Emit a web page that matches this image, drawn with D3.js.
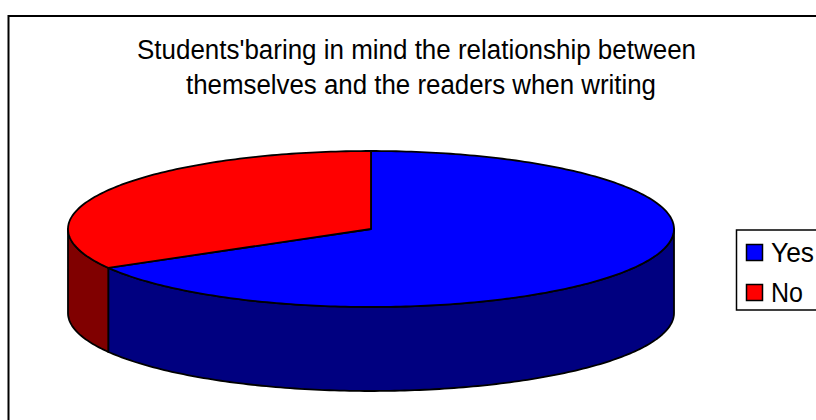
<!DOCTYPE html>
<html><head><meta charset="utf-8">
<script src="https://cdn.jsdelivr.net/npm/d3@7"></script>
<style>html,body{margin:0;padding:0;background:#fff;overflow:hidden}svg{display:block}text{font-family:"Liberation Sans",Arial,sans-serif;fill:#000}</style>
</head><body><svg id="c" width="816" height="420"></svg>
<script>
const categories = ["Yes", "No"];
const values = [66.7, 33.3];
const topColors = ["#0000ff", "#ff0000"];
const sideColors = ["#000080", "#800000"];
const titleLines = ["Students'baring in mind the relationship between", "themselves and the readers when writing"];

const svg = d3.select("#c");
const cx = 371, cy = 229, rx = 303, ry = 78, depth = 84;
const px = d3.scaleLinear().domain([-1, 1]).range([cx - rx, cx + rx]);
const py = d3.scaleLinear().domain([-1, 1]).range([cy - ry, cy + ry]);
const pt = (a, dz = 0) => [px(Math.sin(a)), py(-Math.cos(a)) + dz];
const samples = (a0, a1) => { const n = Math.max(2, Math.ceil(Math.abs(a1 - a0) * 60)); return d3.range(n + 1).map(i => a0 + (a1 - a0) * i / n); };
const line = d3.line();

svg.append("rect").attr("x", 8.5).attr("y", 16).attr("width", 900).attr("height", 600)
  .attr("fill", "#fff").attr("stroke", "#000").attr("stroke-width", 2);

svg.selectAll("text.title").data(titleLines).join("text").attr("class", "title")
  .attr("x", (d, i) => i ? 421 : 416.5).attr("y", (d, i) => 59 + i * 34.5)
  .attr("text-anchor", "middle").attr("font-size", 27).attr("textLength", (d, i) => i ? 470 : 559)
  .attr("lengthAdjust", "spacingAndGlyphs").text(d => d);

const arcs = d3.pie().sort(null)(values);
const front0 = Math.PI / 2, front1 = Math.PI * 1.5;
arcs.forEach((d, i) => {
  const a0 = Math.max(d.startAngle, front0), a1 = Math.min(d.endAngle, front1);
  if (a1 <= a0) return;
  const s = samples(a0, a1);
  const poly = s.map(a => pt(a)).concat(s.slice().reverse().map(a => pt(a, depth)));
  svg.append("path").attr("d", line(poly) + "Z").attr("fill", sideColors[i])
    .attr("stroke", "#000").attr("stroke-width", 1.8).attr("stroke-linejoin", "round");
});
arcs.forEach((d, i) => {
  const poly = [[px(0), py(0)]].concat(samples(d.startAngle, d.endAngle).map(a => pt(a)));
  svg.append("path").attr("d", line(poly) + "Z").attr("fill", topColors[i])
    .attr("stroke", "#000").attr("stroke-width", 1.8).attr("stroke-linejoin", "round");
});

svg.append("rect").attr("x", 736.5).attr("y", 230).attr("width", 200).attr("height", 80)
  .attr("fill", "#fff").attr("stroke", "#000").attr("stroke-width", 1.5);
const lg = svg.selectAll("g.lg").data(categories).join("g").attr("class", "lg")
  .attr("transform", (d, i) => `translate(0,${i * 40})`);
lg.append("rect").attr("x", 746.5).attr("y", 244.5).attr("width", 16).attr("height", 16)
  .attr("fill", (d, i) => topColors[i]).attr("stroke", "#000").attr("stroke-width", 1.5);
lg.append("text").attr("x", 771).attr("y", 261.5).attr("font-size", 27)
  .attr("textLength", (d, i) => i ? 32 : 43).attr("lengthAdjust", "spacingAndGlyphs").text(d => d);
</script></body></html>
